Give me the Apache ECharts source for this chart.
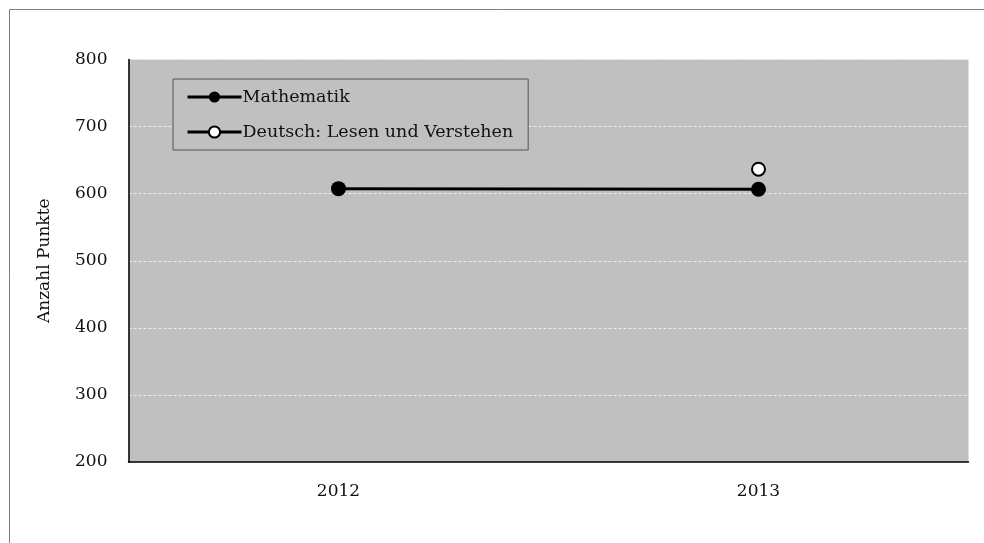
<!DOCTYPE html>
<html><head><meta charset="utf-8">
<script src="https://cdn.jsdelivr.net/npm/echarts@6/dist/echarts.min.js"></script>
<style>html,body{margin:0;padding:0;background:#fff}#c{width:984px;height:543px}</style>
</head><body><div id="c"></div>
<script>
const categories = ['2012', '2013'];
const mathematik = [607.5, 606.5];
const deutsch = [null, 636.5];
const yTicks = { min: 200, max: 800, interval: 100 };
const seriesNames = ['Mathematik', 'Deutsch: Lesen und Verstehen'];
const yName = 'Anzahl Punkte';

const font = 'DejaVu Serif, Liberation Serif, serif';
const chart = echarts.init(document.getElementById('c'), null, { renderer: 'canvas' });
chart.setOption({
  animation: false,
  backgroundColor: '#fff',
  textStyle: { fontFamily: font },
  graphic: [{
    type: 'rect', shape: { x: 9.5, y: 9.5, width: 1000, height: 600 },
    style: { fill: 'none', stroke: '#808080', lineWidth: 1 }, silent: true, z: -10
  }],
  grid: { left: 128.5, top: 59.5, width: 840, height: 402.5, show: true, backgroundColor: '#c0c0c0', borderWidth: 0 },
  legend: {
    orient: 'vertical', left: 173, top: 79,
    backgroundColor: '#c0c0c0', borderColor: '#555', borderWidth: 1,
    padding: [9, 15, 9, 13], itemGap: 17, itemWidth: 54, itemHeight: 14,
    lineStyle: { width: 3, color: '#000' },
    textStyle: { fontFamily: font, fontSize: 17.5, lineHeight: 18, color: '#111', padding: [0, 0, 0, -4] },
    data: seriesNames
  },
  xAxis: {
    type: 'category', data: categories, boundaryGap: true,
    axisLine: { lineStyle: { color: '#000', width: 1.5 } },
    axisTick: { show: false },
    axisLabel: { fontFamily: font, fontSize: 17, color: '#111', margin: 21 },
    splitLine: { show: false }
  },
  yAxis: {
    type: 'value', min: yTicks.min, max: yTicks.max, interval: yTicks.interval,
    name: yName, nameLocation: 'middle', nameGap: 75, nameRotate: 90,
    nameTextStyle: { fontFamily: font, fontSize: 17, color: '#111' },
    axisLine: { show: true, lineStyle: { color: '#000', width: 1.5 } },
    axisTick: { show: false },
    axisLabel: { fontFamily: font, fontSize: 17, color: '#111', margin: 21 },
    splitLine: { show: true, lineStyle: { color: '#ececec', type: [3, 2], width: 1 } }
  },
  series: [
    {
      name: seriesNames[0], type: 'line', data: mathematik,
      symbol: 'circle', symbolSize: 15, showSymbol: true,
      lineStyle: { color: '#000', width: 3 },
      itemStyle: { color: '#000', borderColor: '#000', borderWidth: 0 }
    },
    {
      name: seriesNames[1], type: 'line', data: deutsch,
      symbol: 'circle', symbolSize: 13, showSymbol: true, connectNulls: false,
      lineStyle: { color: '#000', width: 3 },
      itemStyle: { color: '#fff', borderColor: '#000', borderWidth: 2 }
    }
  ]
});
</script></body></html>
